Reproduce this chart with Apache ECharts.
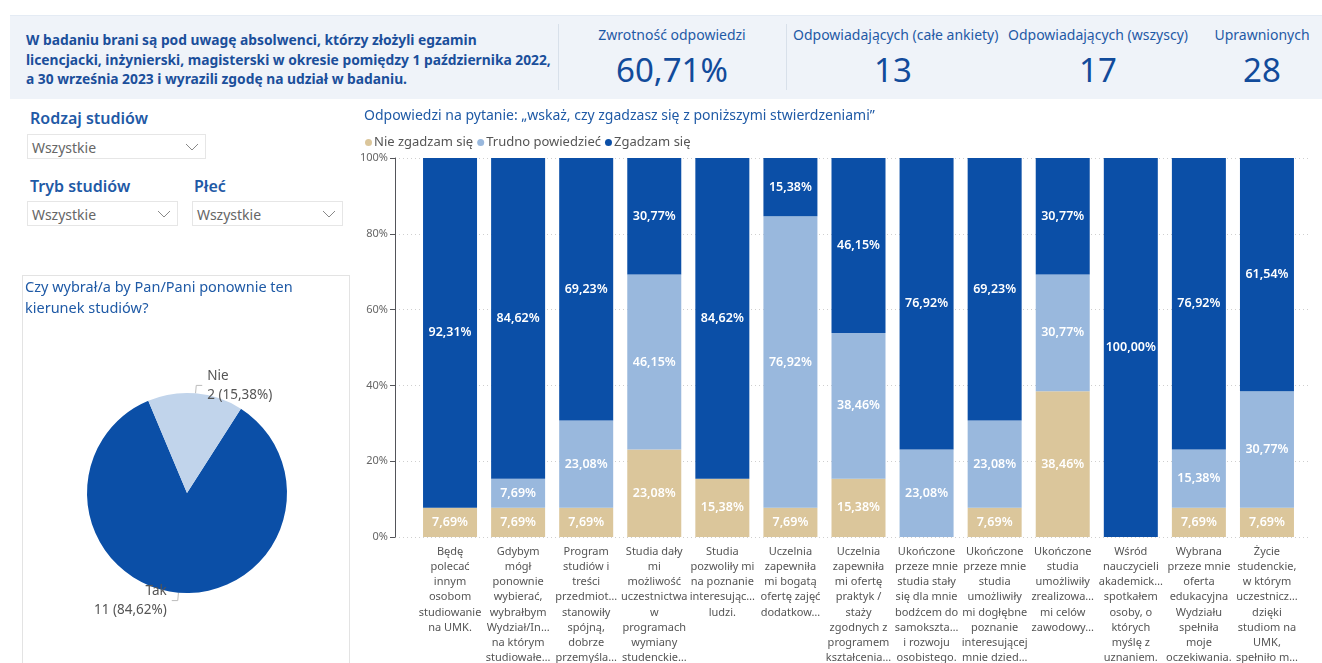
<!DOCTYPE html>
<html>
<head>
<meta charset="utf-8">
<script src="https://cdn.jsdelivr.net/npm/echarts@6/dist/echarts.min.js"></script>
<style>
  html, body { margin: 0; padding: 0; background: #fff; font-family: 'Noto Sans', sans-serif; }
  #page { position: relative; width: 1322px; height: 663px; overflow: hidden; }
  #chart { position: absolute; left: 0; top: 0; width: 1322px; height: 663px; }
  /* pasek nagłówka */
  .head { position: absolute; left: 10px; top: 15px; width: 1312px; height: 83px; background: #eff3f9; border-top: 1px solid #e4ebf4; }
  .head .info { position: absolute; left: 16px; top: 14px; font-size: 13.8px; font-weight: bold; line-height: 19.5px; color: #1b4f9b; }
  .head .sep { position: absolute; top: 8px; width: 1px; height: 66px; background: #d8e0ea; }
  .kpi { position: absolute; top: 9px; text-align: center; color: #1f5aa6; }
  .kpi .lbl { font-size: 14px; white-space: nowrap; }
  .kpi .val { font-size: 33px; color: #124b9b; margin-top: 3px; }
  .filt { position: absolute; font-size: 16px; font-weight: 600; color: #1f5aa6; }
  .drop { position: absolute; height: 25px; border: 1px solid #e6e6e6; font-size: 14px; color: #666; line-height: 25px; padding-left: 4px; box-sizing: border-box; }
  .drop svg { position: absolute; right: 6px; top: 8px; }
  .panel { position: absolute; left: 22px; top: 275px; width: 328px; height: 400px; border: 1px solid #e3e3e3; box-sizing: border-box; }
</style>
</head>
<body>
<div id="page">
  <div class="head">
    <div class="info">W badaniu brani są pod uwagę absolwenci, którzy złożyli egzamin<br>licencjacki, inżynierski, magisterski w okresie pomiędzy 1 października 2022,<br>a 30 września 2023 i wyrazili zgodę na udział w badaniu.</div>
    <div class="sep" style="left:548px"></div>
    <div class="sep" style="left:776px"></div>
    <div class="kpi" style="left:562px;width:200px"><div class="lbl">Zwrotność odpowiedzi</div><div class="val">60,71%</div></div>
    <div class="kpi" style="left:783px;width:200px"><div class="lbl">Odpowiadających (całe ankiety)</div><div class="val">13</div></div>
    <div class="kpi" style="left:988px;width:200px"><div class="lbl">Odpowiadających (wszyscy)</div><div class="val">17</div></div>
    <div class="kpi" style="left:1152px;width:200px"><div class="lbl">Uprawnionych</div><div class="val">28</div></div>
  </div>

  <div class="filt" style="left:30px;top:107px">Rodzaj studiów</div>
  <div class="drop" style="left:27px;top:134px;width:179px">Wszystkie<svg width="14" height="8"><polyline points="1,1 7,7 13,1" fill="none" stroke="#888" stroke-width="1"/></svg></div>
  <div class="filt" style="left:30px;top:175px">Tryb studiów</div>
  <div class="drop" style="left:27px;top:201px;width:151px">Wszystkie<svg width="14" height="8"><polyline points="1,1 7,7 13,1" fill="none" stroke="#888" stroke-width="1"/></svg></div>
  <div class="filt" style="left:194px;top:175px">Płeć</div>
  <div class="drop" style="left:192px;top:201px;width:151px">Wszystkie<svg width="14" height="8"><polyline points="1,1 7,7 13,1" fill="none" stroke="#888" stroke-width="1"/></svg></div>

  <div class="panel"></div>
  <div id="chart"></div>
</div>

<script>
// kategorie (etykiety osi X tak jak w raporcie, ucięte)
var categories = [
  'Będę\npolecać\ninnym\nosobom\nstudiowanie\nna UMK.',
  'Gdybym\nmógł\nponownie\nwybierać,\nwybrałbym\nWydział/In…\nna którym\nstudiowałe…',
  'Program\nstudiów i\ntreści\nprzedmiot…\nstanowiły\nspójną,\ndobrze\nprzemyśla…',
  'Studia dały\nmi\nmożliwość\nuczestnictwa\nw\nprogramach\nwymiany\nstudenckie…',
  'Studia\npozwoliły mi\nna poznanie\ninteresując…\nludzi.',
  'Uczelnia\nzapewniła\nmi bogatą\nofertę zajęć\ndodatkow…',
  'Uczelnia\nzapewniła\nmi ofertę\npraktyk /\nstaży\nzgodnych z\nprogramem\nkształcenia…',
  'Ukończone\nprzeze mnie\nstudia stały\nsię dla mnie\nbodźcem do\nsamokszta…\ni rozwoju\nosobistego.',
  'Ukończone\nprzeze mnie\nstudia\numożliwiły\nmi dogłębne\npoznanie\ninteresującej\nmnie dzied…',
  'Ukończone\nstudia\numożliwiły\nzrealizowa…\nmi celów\nzawodowy…',
  'Wśród\nnauczycieli\nakademick…\nspotkałem\nosoby, o\nktórych\nmyślę z\nuznaniem.',
  'Wybrana\nprzeze mnie\noferta\nedukacyjna\nWydziału\nspełniła\nmoje\noczekiwania.',
  'Życie\nstudenckie,\nw którym\nuczestnicz…\ndzięki\nstudiom na\nUMK,\nspełniło m…'
]
// udział odpowiedzi w %
var nieZgadzam = [7.69, 7.69, 7.69, 23.08, 15.38, 7.69, 15.38, 0, 7.69, 38.46, 0, 7.69, 7.69]
var trudno = [0, 7.69, 23.08, 46.15, 0, 76.92, 38.46, 23.08, 23.08, 30.77, 0, 15.38, 30.77]
var zgadzam = [92.31, 84.62, 69.23, 30.77, 84.62, 15.38, 46.15, 76.92, 69.23, 30.77, 100, 76.92, 61.54]
var yTicks = [0, 20, 40, 60, 80, 100]

// wykres kołowy
var pieNames = ['Tak', 'Nie']
var pieValues = [11, 2]

var fmt = function (v) {
  return v.toFixed(2).replace('.', ',') + '%'
}

var chart = echarts.init(document.getElementById('chart'))

var barLabel = {
  show: true,
  position: 'inside',
  color: '#fff',
  fontSize: 12.5,
  fontWeight: 600,
  formatter: function (p) {
    return p.value > 0 ? fmt(p.value) : ''
  },
}

var option = {
  textStyle: { fontFamily: 'Noto Sans' },
  animation: false,
  title: [
    {
      text: 'Odpowiedzi na pytanie: „wskaż, czy zgadzasz się z poniższymi stwierdzeniami”',
      left: 359,
      top: 104,
      textStyle: { fontSize: 14, fontWeight: 'normal', color: '#1f5aa6' },
    },
    {
      text: 'Czy wybrał/a by Pan/Pani ponownie ten\nkierunek studiów?',
      left: 20,
      top: 272,
      textStyle: { fontSize: 14.5, fontWeight: 'normal', color: '#1f5aa6', lineHeight: 21 },
    },
  ],
  legend: {
    left: 360,
    top: 131,
    icon: 'circle',
    itemWidth: 7,
    itemHeight: 7,
    itemGap: 4,
    textStyle: { fontSize: 13, color: '#555', padding: [0, 0, 0, -3] },
    data: ['Nie zgadzam się', 'Trudno powiedzieć', 'Zgadzam się'],
  },
  grid: [
    { left: 416, right: 21, top: 158, bottom: 126, outerBoundsMode: 'none' },
    { left: 395, right: 12, top: 158, bottom: 126, outerBoundsMode: 'none' },
  ],
  xAxis: [
    {
      type: 'category',
      gridIndex: 0,
      data: categories,
      axisLine: { show: false },
      axisTick: { show: false },
      axisLabel: { interval: 0, fontSize: 11, color: '#555', lineHeight: 15.2, margin: 7, verticalAlign: 'top' },
    },
    { type: 'value', gridIndex: 1, min: 0, max: 1, show: false },
  ],
  yAxis: [
    { type: 'value', gridIndex: 0, min: 0, max: 100, interval: 20, show: false },
    {
      type: 'value',
      gridIndex: 1,
      min: yTicks[0],
      max: yTicks[yTicks.length - 1],
      interval: 20,
      axisLabel: { fontSize: 11, color: '#666', margin: 7, formatter: '{value}%' },
      splitLine: { lineStyle: { type: [1, 3], color: '#cfcfcf' } },
    },
  ],
  series: [
    {
      name: 'Nie zgadzam się',
      type: 'bar',
      stack: 'a',
      barWidth: 54,
      itemStyle: { color: '#dbc69b' },
      label: barLabel,
      data: nieZgadzam,
    },
    {
      name: 'Trudno powiedzieć',
      type: 'bar',
      stack: 'a',
      barWidth: 54,
      itemStyle: { color: '#99b8dd' },
      label: barLabel,
      data: trudno,
    },
    {
      name: 'Zgadzam się',
      type: 'bar',
      stack: 'a',
      barWidth: 54,
      itemStyle: { color: '#0b4fa7' },
      label: barLabel,
      data: zgadzam,
    },
    {
      name: 'pie',
      type: 'pie',
      center: [187, 493],
      radius: 100,
      startAngle: 57.4,
      clockwise: true,
      label: {
        fontSize: 13.5,
        color: '#555',
        lineHeight: 19,
        formatter: function (p) {
          return p.name + '\n' + p.value + ' (' + fmt(p.percent) + ')'
        },
      },
      labelLine: { length: 8, length2: 6, lineStyle: { color: '#bbb' } },
      data: [
        { name: pieNames[0], value: pieValues[0], itemStyle: { color: '#0b4fa7' } },
        { name: pieNames[1], value: pieValues[1], itemStyle: { color: '#c1d4eb' } },
      ],
    },
  ],
}

chart.setOption(option)
</script>
</body>
</html>
